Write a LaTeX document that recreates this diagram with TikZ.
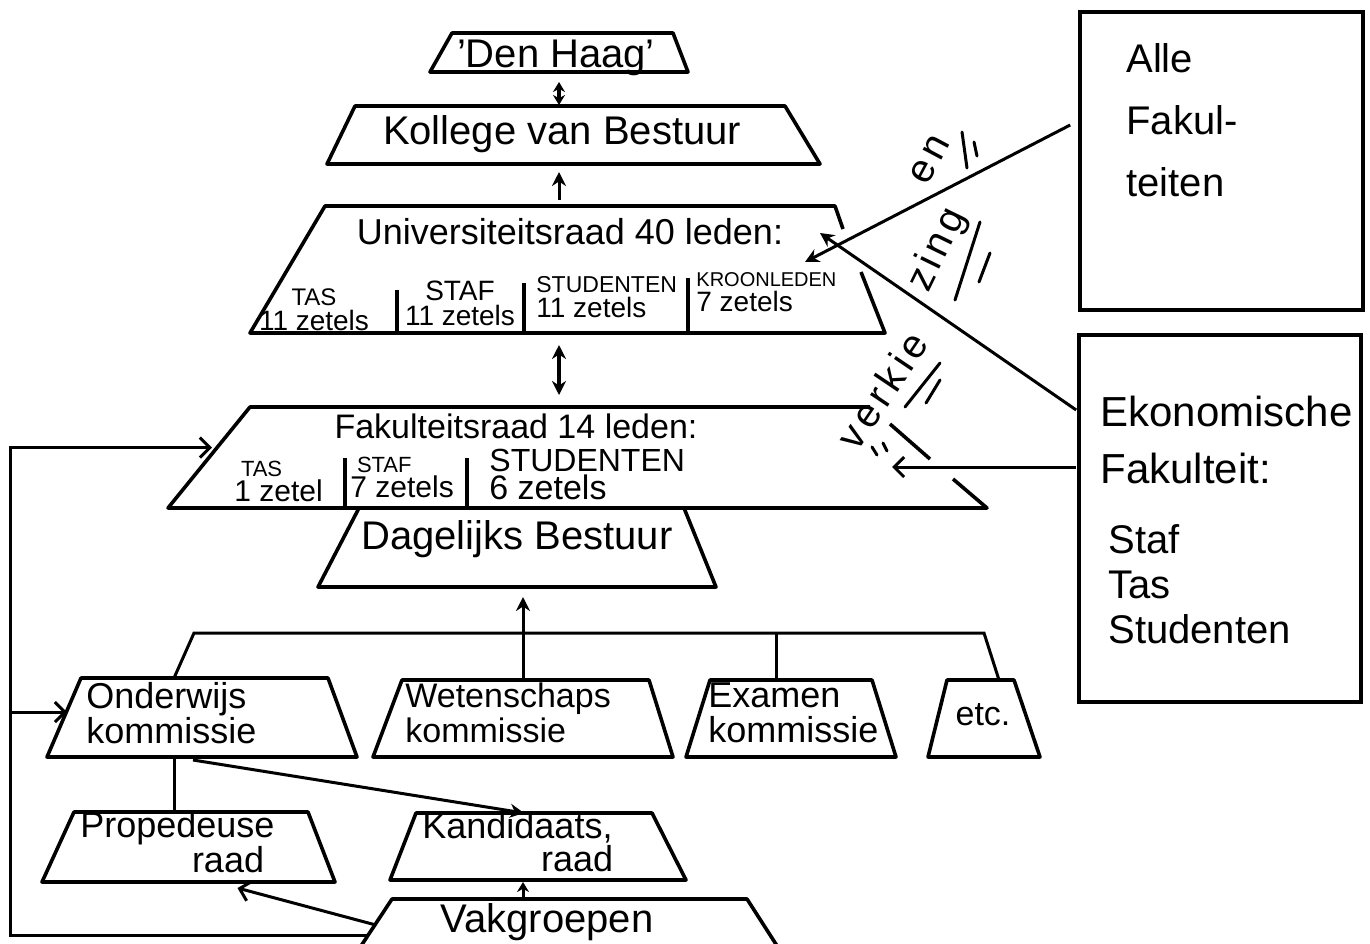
\documentclass[tikz,border=0pt]{standalone}
\usepackage{fontspec}
\setmainfont{Liberation Sans}
\usetikzlibrary{positioning}
\usetikzlibrary{calc}
\usetikzlibrary{fit}
\usetikzlibrary{arrows.meta}
\tikzset{
    % Filled heads for the up and down links
    >={Stealth[length=7pt, width=7pt]},
%
    % Outline of every body of the scheme
    body line/.style={line width=1.8pt, line join=round},
%
    % Used for an exact fit round the corners of a body
    tight fit/.style={fit={#1}, inner sep=0, line width=0},
%
    % The two boxes on the right
    side box/.style={draw, line width=1.8pt},
%
    % Lines between the bodies
    link/.style={line width=1.5pt},
    fat link/.style={line width=2.3pt},
    open link/.style={line width=1.5pt, -{Straight Barb[length=5pt, width=10pt]}},
%
    % Texts
    body text/.style={font=\fontsize{18}{18}\selectfont},
    two lines/.style={font=\fontsize{18}{17.5}\selectfont, align=left, anchor=west, inner sep=0},
    cell text/.style={font=\fontsize{14}{12.5}\selectfont, inner sep=0},
    side text/.style={font=\fontsize{20}{31}\selectfont, align=left, anchor=west, inner sep=0},
    vote text/.style={font=\fontsize{20}{20}\selectfont\addfontfeature{LetterSpace=12},
        inner sep=0},
    tally/.style={line width=1.5pt, line cap=round}}

% Draws a trapezoid body and names the box round it
\newcommand\trapbody[7]{%
    \draw [body line] (#2,#4) -- (#3,#4) -- (#6,#7) -- (#5,#7) -- cycle;
    \node [tight fit={(#5,#4) (#6,#7)}] (#1) {};}

\begin{document}
\begin{tikzpicture}[x=0.5pt, y=-0.5pt]

\useasboundingbox (0,0) rectangle (1370,943);

% The bodies, top down

\trapbody{haag}{452}{673}{33}{430}{688}{72}
\trapbody{kvb}{355}{785}{106}{327}{820}{164}

% Universiteitsraad: right side broken where the arrows come in
\draw [body line] (843,229) -- (835,206) -- (325,206) -- (250,333)
    -- (885,333) -- (861,272);
\node [tight fit={(250,206) (885,333)}] (univ) {};
\draw [body line] (397,290) -- (397,333) (524,283) -- (524,333)
    (688,278) -- (688,333);

% Fakulteitsraad: right side broken by the labels
\draw [body line] (870,407) -- (250,407) -- (168,508) -- (987,508)
    -- (953,479) (930,459) -- (890,424);
\node [tight fit={(168,407) (987,508)}] (fak) {};
\draw [body line] (345,458) -- (345,508) (467,458) -- (467,508);

\trapbody{dag}{359}{684}{508}{318}{716}{587}

\trapbody{ond}{81}{328}{678}{47}{357}{757}
\trapbody{wet}{402}{649}{680}{373}{673}{757}
\trapbody{exa}{710}{872}{680}{686}{896}{757}
\trapbody{etc}{947}{1014}{680}{928}{1040}{757}
\trapbody{prop}{74}{308}{812}{42}{335}{882}
\trapbody{kand}{416}{652}{813}{390}{686}{880}
\trapbody{vak}{392}{747}{899}{357}{781}{952}

\node [tight fit={(1080,12) (1363,310)}, side box] (alle) {};
\node [tight fit={(1079,335) (1361,702)}, side box] (eko) {};

% Names

\node [body text, font=\fontsize{20}{20}\selectfont] (haag name) at (556,58) {'Den Haag'};
\node [body text, font=\fontsize{20}{20}\selectfont] (kvb name) at (562,134) {Kollege van Bestuur};
\node [body text] (univ name) at (570,232) {Universiteitsraad 40 leden:};
\node [cell text, align=center] (univ tas) at (314,310)
    {{\fontsize{12}{12}\selectfont TAS}\\11 zetels};
\node [cell text, align=center] (univ staf) at (460,303) {STAF\\11 zetels};
\node [cell text, align=left, anchor=west] (univ stud) at (536,297)
    {{\fontsize{11.5}{12}\selectfont STUDENTEN}\\11 zetels};
\node [cell text, align=left, anchor=west] (univ kroon) at (696,292)
    {{\fontsize{10}{12}\selectfont KROONLEDEN}\\7 zetels};

\node [body text, font=\fontsize{17}{17}\selectfont] (fak name) at (516,426) {Fakulteitsraad 14 leden:};
\node [cell text, align=left, anchor=west, font=\fontsize{15}{12.5}\selectfont] (fak tas)
    at (234,481) {{\fontsize{11}{12}\selectfont\hspace*{0.3em}TAS}\\1 zetel};
\node [cell text, align=left, anchor=west, font=\fontsize{15}{12.5}\selectfont] (fak staf)
    at (350,477) {{\fontsize{11}{12}\selectfont\hspace*{0.3em}STAF}\\7 zetels};
\node [cell text, align=left, anchor=west, font=\fontsize{17}{14}\selectfont] (fak stud)
    at (489,474) {{\fontsize{16}{14}\selectfont STUDENTEN}\\6 zetels};

\node [body text, font=\fontsize{20}{20}\selectfont] (dag name) at (517,539) {Dagelijks Bestuur};

\node [two lines] (ond name) at (86,713) {Onderwijs\\kommissie};
\node [two lines, font=\fontsize{17}{17.5}\selectfont] (wet name) at (405,713) {Wetenschaps\\kommissie};
\node [two lines] (exa name) at (708,713) {Examen\\kommissie};
\node [body text, font=\fontsize{17}{17}\selectfont] (etc name) at (983,715) {etc.};
\node [two lines, font=\fontsize{18}{15}\selectfont] (prop name) at (80,842)
    {Propedeuse\\\hspace*{3.1em}raad};
\node [two lines, font=\fontsize{18}{15}\selectfont] (kand name) at (422,842)
    {Kandidaats,\\\hspace*{3.3em}raad};
\node [body text, font=\fontsize{20}{20}\selectfont] (vak name) at (547,922) {Vakgroepen};

\node [side text] (alle name) at (1126,120) {Alle\\Fakul-\\teiten};
\node [side text, font=\fontsize{21}{28.5}\selectfont] (eko name) at (1100,440)
    {Ekonomische\\Fakulteit:};
\node [side text, font=\fontsize{20}{22.5}\selectfont] (eko groups) at (1108,584)
    {Staf\\Tas\\Studenten};

% Links inside the university

\draw [fat link, {Stealth[length=5pt, width=6pt]}-{Stealth[length=5pt, width=6pt]},
    shorten <=5pt, shorten >=0.5pt]
    (haag.south) -- (haag.south |- kvb.north);
\draw [link, ->, shorten <=3pt, shorten >=4pt]
    (univ.north -| haag.south) -- (kvb.south -| haag.south);
\draw [fat link, <->, shorten <=6pt, shorten >=6pt]
    (univ.south -| haag.south) -- (fak.north -| haag.south);

\draw [link] ($(ond.north)+(-28,0)$) -- ++(20,-45) coordinate (bus west)
    -- (bus west -| etc.north) -- ($(etc.north)+(15,0)$);
\draw [link] (wet.north) -- (wet.north |- bus west);
\draw [link] ($(exa.north)+(-15,0)$) -- ++(0,-47);
\draw [link, ->, shorten >=5pt] (wet.north |- bus west) -- (wet.north |- dag.south);

\draw [link] ($(prop.north)+(-14,0)$) -- ++(0,-55);
\draw [link, ->] ($(ond.south)+(-9,3)$) -- ($(kand.north)+(-14,0)$);
\draw [link, {Stealth[length=5pt, width=6pt]}-, shorten <=1pt]
    (kand.south -| wet.north) -- (vak.north -| wet.north);
\draw [open link] ($(vak.west)+(17,-1)$) -- ($(prop.south)+(49,6)$);

\draw [open link] ($(vak.south west)+(11,-17)$) -| ($(fak.west)+(-158,-10)$)
    -- ($(fak.west)+(44,-10)$);
\draw [open link] ($(ond.west)+(-37,-5.5)$) -- ($(ond.west)+(20,-5.5)$);

% Links from the faculties

\draw [link, ->] ($(alle.west)+(-8,-36)$) -- ($(univ.north east)+(-80,56)$);
\draw [link, ->] ($(eko.west)+(-1,-108.5)$) -- ($(univ.north east)+(-65,27)$);
\draw [open link] ($(eko.west)+(-1,-51.5)$) -- ($(fak.north east)+(-95,60)$);

\node [vote text, rotate=62] (vote en) at (930,160) {en};
\node [vote text, rotate=64] (vote zing) at (938,250) {zing};
\node [vote text, rotate=56] (vote verkie) at (882,390) {verkie};

\draw [tally] (962,132) -- (967,168) (974,142) -- (977,156);
\draw [tally] (980,222) -- (955,300) (990,253) -- (979,282);
\draw [tally] (940,363) -- (905,407) (940,380) -- (926,403);
\draw [tally] (872,447) -- (877,455) (883,443) -- (887,451);

\end{tikzpicture}
\end{document}
